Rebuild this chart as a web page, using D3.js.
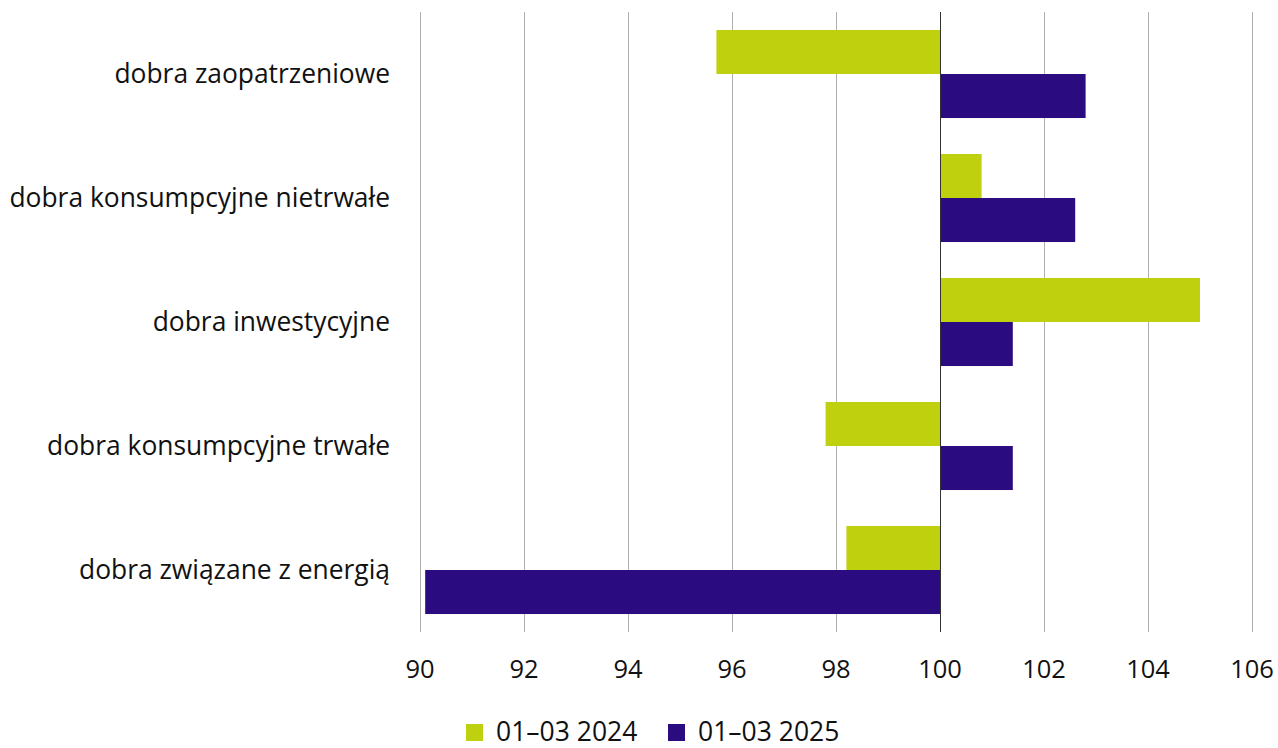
<!DOCTYPE html>
<html>
<head>
<meta charset="utf-8">
<script src="https://cdn.jsdelivr.net/npm/d3@7"></script>
<style>
  body { margin: 0; background: #fff; }
  text { font-family: "Open Sans", sans-serif; fill: #111; }
</style>
</head>
<body>
<div id="chart-area"></div>
<script>
const categories = [
    "dobra zaopatrzeniowe",
    "dobra konsumpcyjne nietrwałe",
    "dobra inwestycyjne",
    "dobra konsumpcyjne trwałe",
    "dobra związane z energią"
]
const seriesNames = ["01–03 2024", "01–03 2025"]
const values2024 = [95.7, 100.8, 105.0, 97.8, 98.2]
const values2025 = [102.8, 102.6, 101.4, 101.4, 90.1]
const xTicks = [90, 92, 94, 96, 98, 100, 102, 104, 106]
const colors = ["#bed00e", "#2a0b80"]

function drawChart() {
    const svgWidth = 1278
    const svgHeight = 748
    const margin = { left: 420, right: 26, top: 12, bottom: 116 }

    const svg = d3.select("#chart-area")
        .append("svg")
        .attr("width", svgWidth)
        .attr("height", svgHeight)

    const x = d3.scaleLinear()
        .domain([90, 106])
        .range([margin.left, svgWidth - margin.right])

    const y = d3.scaleBand()
        .domain(categories)
        .range([margin.top, svgHeight - margin.bottom])
        .paddingInner(0.29)
        .paddingOuter(0.145)

    const sub = d3.scaleBand()
        .domain(seriesNames)
        .range([0, y.bandwidth()])

    // gridlines
    svg.append("g")
        .selectAll("line")
        .data(xTicks)
        .join("line")
        .attr("x1", d => x(d) + 0.5)
        .attr("x2", d => x(d) + 0.5)
        .attr("y1", margin.top)
        .attr("y2", svgHeight - margin.bottom)
        .attr("stroke", "#b0b0b0")
        .attr("stroke-width", 1)

    const rows = categories.map((c, i) => [
        { cat: c, s: seriesNames[0], v: values2024[i] },
        { cat: c, s: seriesNames[1], v: values2025[i] }
    ]).flat()

    svg.append("g")
        .selectAll("rect")
        .data(rows)
        .join("rect")
        .attr("x", d => x(Math.min(100, d.v)))
        .attr("width", d => Math.abs(x(d.v) - x(100)))
        .attr("y", d => y(d.cat) + sub(d.s))
        .attr("height", sub.bandwidth())
        .attr("fill", d => d.s === seriesNames[0] ? colors[0] : colors[1])

    // baseline at 100
    svg.append("line")
        .attr("x1", x(100) + 0.5)
        .attr("x2", x(100) + 0.5)
        .attr("y1", margin.top)
        .attr("y2", svgHeight - margin.bottom)
        .attr("stroke", "#333")
        .attr("stroke-width", 1)

    // category labels
    svg.append("g")
        .selectAll("text")
        .data(categories)
        .join("text")
        .attr("x", margin.left - 30)
        .attr("y", d => y(d) + y.bandwidth() / 2)
        .attr("dy", "0.35em")
        .attr("text-anchor", "end")
        .style("font-size", "26.4px")
        .text(d => d)

    // x tick labels
    svg.append("g")
        .selectAll("text")
        .data(xTicks)
        .join("text")
        .attr("x", d => x(d))
        .attr("y", 678)
        .attr("text-anchor", "middle")
        .style("font-size", "25.5px")
        .text(d => d)

    // legend
    const legendX = [466, 668]
    const legend = svg.append("g")
        .selectAll("g")
        .data(seriesNames)
        .join("g")
        .attr("transform", (d, i) => `translate(${legendX[i]}, 724)`)
    legend.append("rect")
        .attr("width", 17)
        .attr("height", 17)
        .attr("fill", (d, i) => colors[i])
    legend.append("text")
        .attr("x", 30)
        .attr("y", 17)
        .style("font-size", "26.5px")
        .text(d => d)
}

drawChart()
</script>
</body>
</html>
